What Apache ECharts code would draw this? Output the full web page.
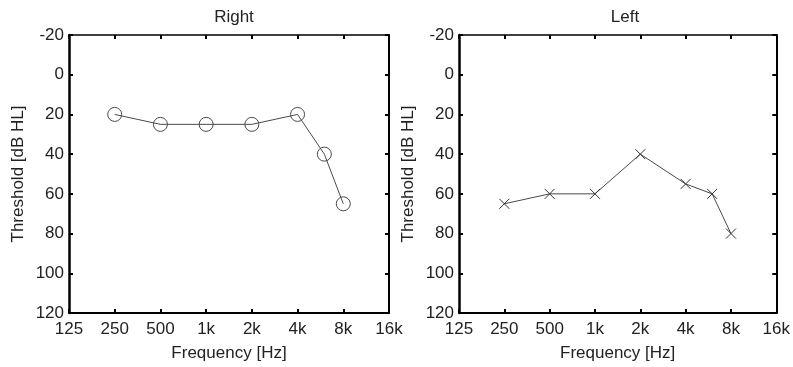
<!DOCTYPE html>
<html>
<head>
<meta charset="utf-8">
<script src="https://cdn.jsdelivr.net/npm/echarts@6/dist/echarts.min.js"></script>
<style>
  html, body { margin: 0; padding: 0; background: #fff; }
  #main { width: 793px; height: 367px; }
</style>
</head>
<body>
<div id="main"></div>
<script>
// audiogram data
var freqs = [250, 500, 1000, 2000, 4000, 6000, 8000]
var rightEar = [20, 25, 25, 25, 20, 40, 65]
var leftEar = [65, 60, 60, 40, 55, 60, 80]
var xTickLabels = ['125', '250', '500', '1k', '2k', '4k', '8k', '16k']
var yTicks = [-20, 0, 20, 40, 60, 80, 100, 120]

var baseFreq = 125
// octaves above 125 Hz, so the axis is logarithmic
var toPairs = function (vals) {
  return freqs.map(function (f, i) { return [Math.log2(f / baseFreq), vals[i]] })
}

var font = 'Liberation Sans, Arial, sans-serif'
var txt = '#222'

var mychart = echarts.init(document.getElementById('main'))

var grids = [
  { left: 69, top: 35, width: 320, height: 282 },
  { left: 459, top: 35, width: 322, height: 282 },
]

var xAxes = []
var yAxes = []
grids.forEach(function (g, k) {
  // bottom axis with labels
  xAxes.push({
    gridIndex: k, type: 'value', position: 'bottom',
    min: 0, max: xTickLabels.length - 1, interval: 1,
    name: 'Frequency [Hz]', nameLocation: 'middle', nameGap: 32,
    nameTextStyle: { fontFamily: font, fontSize: 17, color: txt },
    axisLine: { show: true, onZero: false, lineStyle: { color: '#000', width: 2 } },
    axisTick: { show: true, inside: true, length: 4, lineStyle: { color: '#000', width: 2 } },
    axisLabel: { fontFamily: font, fontSize: 17, color: txt, margin: 8, showMinLabel: true, showMaxLabel: true,
      formatter: function (v) { return xTickLabels[Math.round(v)] } },
    splitLine: { show: false },
  })
  // top mirror axis
  xAxes.push({
    gridIndex: k, type: 'value', position: 'top',
    min: 0, max: xTickLabels.length - 1, interval: 1,
    axisLine: { show: true, onZero: false, lineStyle: { color: '#000', width: 1.5 } },
    axisTick: { show: true, inside: true, length: 4, lineStyle: { color: '#000', width: 2 } },
    axisLabel: { show: false },
    splitLine: { show: false },
  })
  yAxes.push({
    gridIndex: k, type: 'value', position: 'left', inverse: true,
    min: yTicks[0], max: yTicks[yTicks.length - 1], interval: 20,
    name: 'Threshold [dB HL]', nameLocation: 'middle', nameGap: 42,
    nameTextStyle: { fontFamily: font, fontSize: 17, color: txt },
    axisLine: { show: true, onZero: false, lineStyle: { color: '#000', width: 2.5 } },
    axisTick: { show: true, inside: true, length: 4, lineStyle: { color: '#000', width: 2 } },
    axisLabel: { fontFamily: font, fontSize: 17, color: txt, margin: 5, showMinLabel: true, showMaxLabel: true },
    splitLine: { show: false },
  })
  yAxes.push({
    gridIndex: k, type: 'value', position: 'right', inverse: true,
    min: yTicks[0], max: yTicks[yTicks.length - 1], interval: 20,
    axisLine: { show: true, onZero: false, lineStyle: { color: '#000', width: 2 } },
    axisTick: { show: true, inside: true, length: 4, lineStyle: { color: '#000', width: 2 } },
    axisLabel: { show: false },
    splitLine: { show: false },
  })
})

var option = {
  animation: false,
  backgroundColor: '#fff',
  title: [
    { text: 'Right', left: 229, top: 4, textAlign: 'center',
      textStyle: { fontFamily: font, fontSize: 17, fontWeight: 'normal', color: txt } },
    { text: 'Left', left: 620, top: 4, textAlign: 'center',
      textStyle: { fontFamily: font, fontSize: 17, fontWeight: 'normal', color: txt } },
  ],
  grid: grids,
  xAxis: xAxes,
  yAxis: yAxes,
  series: [
    {
      name: 'Right', type: 'line', xAxisIndex: 0, yAxisIndex: 0,
      data: toPairs(rightEar),
      symbol: 'circle', symbolSize: 14, showAllSymbol: true,
      lineStyle: { color: '#4a4a4a', width: 1 },
      itemStyle: { color: 'rgba(0,0,0,0)', borderColor: '#4a4a4a', borderWidth: 1 },
    },
    {
      name: 'Left', type: 'line', xAxisIndex: 2, yAxisIndex: 2,
      data: toPairs(leftEar),
      symbol: 'path://M0,0L10,10M10,0L0,10', symbolSize: 10, showAllSymbol: true,
      lineStyle: { color: '#4a4a4a', width: 1 },
      itemStyle: { color: 'none', borderColor: '#333', borderWidth: 1 },
    },
  ],
}
mychart.setOption(option)
</script>
</body>
</html>
